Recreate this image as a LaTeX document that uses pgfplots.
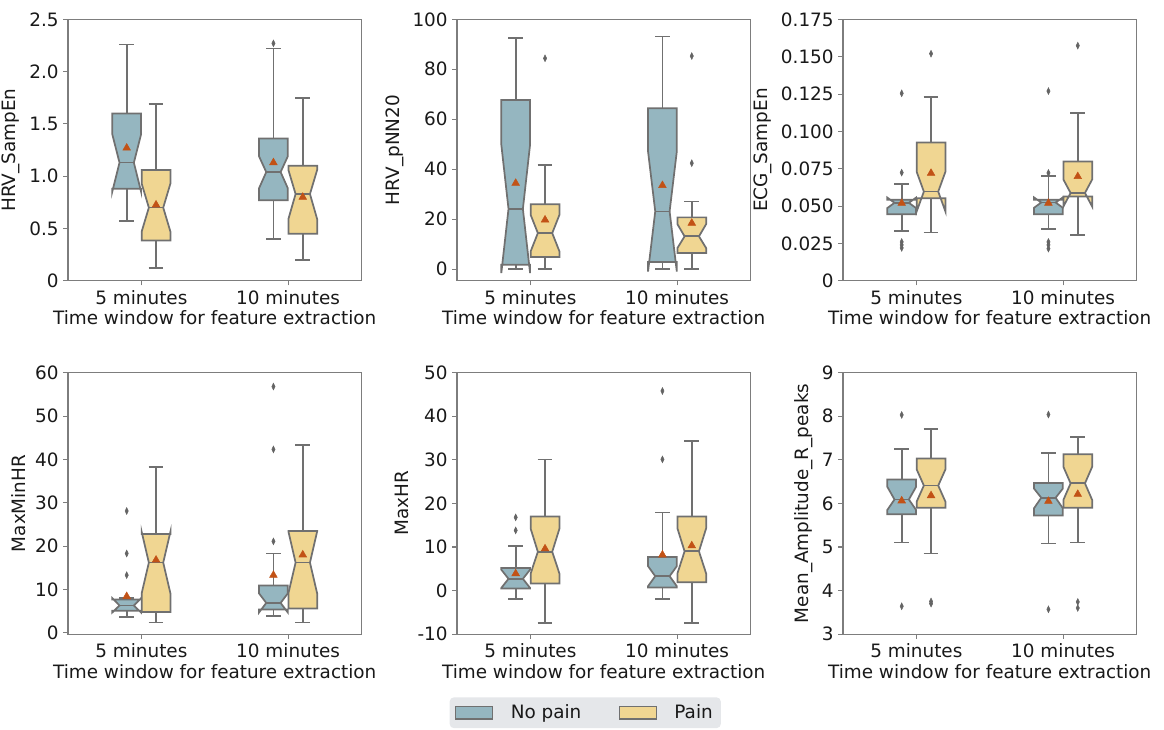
\documentclass[border=0pt]{standalone}
\usepackage{pgfplots}
\pgfplotsset{compat=1.18}
\usepackage{fontspec}
\setmainfont{DejaVu Sans}
\definecolor{boxblue}{RGB}{149,182,192}
\definecolor{boxyellow}{RGB}{240,214,146}
\definecolor{edgegray}{RGB}{112,112,112}
\definecolor{meancol}{RGB}{194,82,22}
\definecolor{outcol}{RGB}{100,100,100}
\definecolor{spinecol}{RGB}{125,125,125}
\definecolor{textcol}{RGB}{25,25,25}
\definecolor{legfill}{RGB}{229,231,234}
\newcommand\fsz{\fontsize{13.8}{16}\selectfont}
\pgfplotsset{
  boxst/.style={draw=edgegray, line width=1.3pt, line join=miter, forget plot},
  wst/.style={draw=edgegray, line width=1.3pt, forget plot},
  outst/.style={only marks, mark=diamond*, mark size=2.5pt, mark options={fill=outcol, draw=outcol, xscale=0.65}, forget plot},
  meanst/.style={only marks, mark=triangle*, mark size=3.3pt, mark options={fill=meancol, draw=meancol}, forget plot},
  panel/.style={
    scale only axis, width=220.1pt, height=196.1pt, anchor=north west,
    xmin=-0.5, xmax=1.5, xtick={0,1}, xticklabels={5 minutes,10 minutes},
    xlabel={Time window for feature extraction},
    axis line style={spinecol, line width=0.8pt},
    tick style={spinecol, line width=0.8pt}, major tick length=3.5pt,
    tick align=outside, xtick pos=bottom, ytick pos=left,
    ticklabel style={font=\fsz, text=textcol},
    label style={font=\fsz, text=textcol},
    xlabel style={yshift=2pt},
    /pgf/number format/assume math mode=true,
  },
}
% notched box: center, q1, notch low, median, notch high, q3, fill
\newcommand\nbox[7]{%
  \pgfmathsetmacro\bxL{#1-0.098}\pgfmathsetmacro\bxR{#1+0.098}%
  \pgfmathsetmacro\bcL{#1-0.049}\pgfmathsetmacro\bcR{#1+0.049}%
  \edef\bxtmp{\noexpand\addplot[boxst,fill=#7] coordinates {(\bxL,#2) (\bxR,#2) (\bxR,#3) (\bcR,#4) (\bxR,#5) (\bxR,#6) (\bxL,#6) (\bxL,#5) (\bcL,#4) (\bxL,#3)} -- cycle;%
  \noexpand\addplot[boxst] coordinates {(\bcL,#4) (\bcR,#4)};}%
  \bxtmp}
% whiskers: center, low whisker, q1, q3, high whisker
\newcommand\wsk[5]{%
  \pgfmathsetmacro\wcL{#1-0.05}\pgfmathsetmacro\wcR{#1+0.05}%
  \edef\wtmp{\noexpand\addplot[wst] coordinates {(#1,#2) (#1,#3)};%
  \noexpand\addplot[wst] coordinates {(#1,#4) (#1,#5)};%
  \noexpand\addplot[wst] coordinates {(\wcL,#2) (\wcR,#2)};%
  \noexpand\addplot[wst] coordinates {(\wcL,#5) (\wcR,#5)};}%
  \wtmp}
\begin{document}
\begin{tikzpicture}
\useasboundingbox (0,0) rectangle (873pt,-546.75pt);
% ---------- Panel 1 ----------
\begin{axis}[panel, at={(51pt,-14.5pt)}, ymin=0, ymax=2.5,
  ytick={0,0.5,1,1.5,2,2.5}, yticklabels={0,0.5,1.0,1.5,2.0,2.5}, ylabel={HRV\_SampEn}]
\wsk{-0.1}{0.57}{0.88}{1.60}{2.26}
\wsk{0.1}{0.12}{0.385}{1.06}{1.69}
\wsk{0.9}{0.40}{0.77}{1.36}{2.22}
\wsk{1.1}{0.20}{0.45}{1.10}{1.75}
\nbox{-0.1}{0.88}{0.853}{1.13}{1.40}{1.60}{boxblue}
\nbox{0.1}{0.385}{0.47}{0.70}{0.93}{1.06}{boxyellow}
\nbox{0.9}{0.77}{0.885}{1.04}{1.19}{1.36}{boxblue}
\nbox{1.1}{0.45}{0.59}{0.83}{1.06}{1.10}{boxyellow}
\addplot[outst] coordinates {(0.9,2.27)};
\addplot[meanst] coordinates {(-0.1,1.27) (0.1,0.726) (0.9,1.13) (1.1,0.80)};
\end{axis}
% ---------- Panel 2 ----------
\begin{axis}[panel, at={(342.75pt,-14.5pt)}, ymin=-4.7, ymax=100,
  ytick={0,20,40,60,80,100}, yticklabels={0,20,40,60,80,100}, ylabel={HRV\_pNN20}]
\wsk{-0.1}{0}{1.7}{67.7}{92.4}
\wsk{0.1}{0}{4.8}{26.0}{41.7}
\wsk{0.9}{0}{2.8}{64.4}{93.1}
\wsk{1.1}{0}{6.4}{20.7}{27.1}
\nbox{-0.1}{1.7}{-1.6}{24.1}{49.8}{67.7}{boxblue}
\nbox{0.1}{4.8}{7.1}{14.4}{21.7}{26.0}{boxyellow}
\nbox{0.9}{2.8}{-1.0}{23.1}{47.1}{64.4}{boxblue}
\nbox{1.1}{6.4}{8.4}{13.1}{18.0}{20.7}{boxyellow}
\addplot[outst] coordinates {(0.1,84.4) (1.1,85.3) (1.1,42.4)};
\addplot[meanst] coordinates {(-0.1,34.4) (0.1,19.7) (0.9,33.5) (1.1,18.4)};
\end{axis}
% ---------- Panel 3 ----------
\begin{axis}[panel, at={(632.25pt,-14.5pt)}, ymin=0, ymax=0.175,
  ytick={0,0.025,0.05,0.075,0.1,0.125,0.15,0.175},
  yticklabels={0,0.025,0.050,0.075,0.100,0.125,0.150,0.175}, ylabel={ECG\_SampEn}]
\wsk{-0.1}{0.0334}{0.0446}{0.0542}{0.0649}
\wsk{0.1}{0.0323}{0.0553}{0.0925}{0.1228}
\wsk{0.9}{0.0348}{0.0446}{0.0542}{0.0702}
\wsk{1.1}{0.0308}{0.0564}{0.0798}{0.1121}
\nbox{-0.1}{0.0446}{0.0487}{0.0522}{0.0557}{0.0542}{boxblue}
\nbox{0.1}{0.0553}{0.0464}{0.0597}{0.0730}{0.0925}{boxyellow}
\nbox{0.9}{0.0446}{0.0489}{0.0524}{0.0558}{0.0542}{boxblue}
\nbox{1.1}{0.0564}{0.0497}{0.0588}{0.0678}{0.0798}{boxyellow}
\addplot[outst] coordinates {(-0.1,0.1255) (-0.1,0.0724) (-0.1,0.026) (-0.1,0.024) (-0.1,0.022)
  (0.1,0.152) (0.9,0.127) (0.9,0.0722) (0.9,0.026) (0.9,0.024) (0.9,0.0215) (1.1,0.1574)};
\addplot[meanst] coordinates {(-0.1,0.0519) (0.1,0.072) (0.9,0.052) (1.1,0.0698)};
\end{axis}
% ---------- Panel 4 ----------
\begin{axis}[panel, at={(51pt,-279.5pt)}, ymin=-0.3, ymax=60,
  ytick={0,10,20,30,40,50,60}, yticklabels={0,10,20,30,40,50,60}, ylabel={MaxMinHR}]
\wsk{-0.1}{3.7}{5.1}{7.7}{8.0}
\wsk{0.1}{2.4}{4.8}{22.8}{38.2}
\wsk{0.9}{3.9}{5.4}{10.9}{18.3}
\wsk{1.1}{2.4}{5.6}{23.5}{43.3}
\nbox{-0.1}{5.1}{4.7}{6.3}{8.0}{7.7}{boxblue}
\nbox{0.1}{4.8}{9.1}{16.2}{23.3}{22.8}{boxyellow}
\nbox{0.9}{5.4}{4.7}{6.9}{9.1}{10.9}{boxblue}
\nbox{1.1}{5.6}{9.1}{16.2}{23.4}{23.5}{boxyellow}
\addplot[outst] coordinates {(-0.1,28.1) (-0.1,18.3) (-0.1,13.3) (0.9,56.8) (0.9,42.3) (0.9,21.1)};
\addplot[meanst] coordinates {(-0.1,8.4) (0.1,16.8) (0.9,13.3) (1.1,18.0)};
\end{axis}
% ---------- Panel 5 ----------
\begin{axis}[panel, at={(342.75pt,-279.5pt)}, ymin=-10, ymax=50,
  ytick={-10,0,10,20,30,40,50}, yticklabels={-10,0,10,20,30,40,50}, ylabel={MaxHR},
  legend columns=2,
  legend style={at={(0.437,-0.241)}, anchor=north, fill=legfill, draw=none, rounded corners=3pt,
    font=\fsz, text=textcol, inner xsep=4pt, inner ysep=3.5pt,
    /tikz/every odd column/.append style={column sep=11pt},
    /tikz/every even column/.append style={column sep=26pt}}]
\addlegendimage{legend image code/.code={\draw[sharp corners,fill=boxblue,draw=edgegray,line width=0.8pt] (0pt,-4.7pt) rectangle (28pt,4.7pt);}}
\addlegendentry{No pain}
\addlegendimage{legend image code/.code={\draw[sharp corners,fill=boxyellow,draw=edgegray,line width=0.8pt] (0pt,-4.7pt) rectangle (28pt,4.7pt);}}
\addlegendentry{Pain}
\wsk{-0.1}{-1.9}{0.5}{5.2}{10.2}
\wsk{0.1}{-7.4}{1.6}{17.0}{30.1}
\wsk{0.9}{-1.9}{0.7}{7.7}{17.9}
\wsk{1.1}{-7.4}{1.9}{17.0}{34.3}
\nbox{-0.1}{0.5}{0.6}{2.7}{4.8}{5.2}{boxblue}
\nbox{0.1}{1.6}{3.9}{8.9}{14.2}{17.0}{boxyellow}
\nbox{0.9}{0.7}{1.0}{3.3}{5.6}{7.7}{boxblue}
\nbox{1.1}{1.9}{3.9}{9.0}{14.3}{17.0}{boxyellow}
\addplot[outst] coordinates {(-0.1,16.8) (-0.1,13.8) (0.9,45.8) (0.9,30.1)};
\addplot[meanst] coordinates {(-0.1,3.9) (0.1,9.6) (0.9,8.2) (1.1,10.3)};
\end{axis}
% ---------- Panel 6 ----------
\begin{axis}[panel, at={(632.25pt,-279.5pt)}, ymin=3, ymax=9,
  ytick={3,4,5,6,7,8,9}, yticklabels={3,4,5,6,7,8,9}, ylabel={Mean\_Amplitude\_R\_peaks}]
\wsk{-0.1}{5.10}{5.75}{6.55}{7.25}
\wsk{0.1}{4.85}{5.90}{7.03}{7.70}
\wsk{0.9}{5.08}{5.72}{6.47}{7.16}
\wsk{1.1}{5.10}{5.90}{7.13}{7.52}
\nbox{-0.1}{5.75}{5.85}{6.09}{6.38}{6.55}{boxblue}
\nbox{0.1}{5.90}{6.04}{6.41}{6.78}{7.03}{boxyellow}
\nbox{0.9}{5.72}{5.89}{6.13}{6.34}{6.47}{boxblue}
\nbox{1.1}{5.90}{6.08}{6.46}{6.84}{7.13}{boxyellow}
\addplot[outst] coordinates {(-0.1,8.03) (-0.1,3.64) (0.1,3.70) (0.1,3.75) (0.9,8.04) (0.9,3.57) (1.1,3.74) (1.1,3.60)};
\addplot[meanst] coordinates {(-0.1,6.06) (0.1,6.18) (0.9,6.05) (1.1,6.21)};
\end{axis}
\end{tikzpicture}
\end{document}
